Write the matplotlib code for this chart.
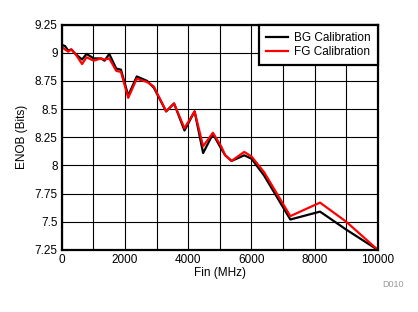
import matplotlib
matplotlib.use('Agg')
import matplotlib.pyplot as plt

plt.rcParams['font.family'] = ['Liberation Sans', 'DejaVu Sans']

# Input frequency (MHz) and ENOB for both calibration modes
fin_mhz = [0, 100, 200, 300, 430, 640, 780, 1010, 1240, 1350, 1500, 1720, 1870,
           2100, 2370, 2700, 2910, 3300, 3550, 3880, 4200, 4470, 4780, 5040,
           5170, 5370, 5770, 6000, 6400, 7230, 8170, 9000, 10000]
enob_bg = [9.07, 9.06, 9.02, 9.03, 8.99, 8.94, 8.99, 8.95, 8.95, 8.93, 8.99, 8.86,
           8.85, 8.62, 8.79, 8.75, 8.69, 8.48, 8.55, 8.31, 8.48, 8.11, 8.28, 8.15,
           8.09, 8.04, 8.09, 8.06, 7.91, 7.52, 7.59, 7.43, 7.25]
enob_fg = [9.05, 9.03, 9.01, 9.03, 8.99, 8.90, 8.96, 8.93, 8.95, 8.94, 8.95, 8.84,
           8.83, 8.60, 8.77, 8.74, 8.70, 8.48, 8.55, 8.33, 8.48, 8.17, 8.29, 8.17,
           8.09, 8.04, 8.12, 8.08, 7.94, 7.55, 7.67, 7.50, 7.25]

xticks = [0, 2000, 4000, 6000, 8000, 10000]
yticks = [7.25, 7.5, 7.75, 8, 8.25, 8.5, 8.75, 9, 9.25]
ytick_labels = ['7.25', '7.5', '7.75', '8', '8.25', '8.5', '8.75', '9', '9.25']

fig = plt.figure(figsize=(4.18, 3.12), dpi=100)
ax = fig.add_axes([0.148, 0.199, 0.756, 0.722])

ax.plot(fin_mhz, enob_bg, color='black', lw=1.6, label='BG Calibration')
ax.plot(fin_mhz, enob_fg, color='red', lw=1.6, label='FG Calibration')

ax.set_xlim(0, 10000)
ax.set_ylim(7.25, 9.25)
ax.set_xticks(xticks)
ax.set_xticks(range(0, 10001, 1000), minor=True)
ax.set_yticks(yticks)
ax.set_yticklabels(ytick_labels)
ax.grid(True, which='both', color='black', lw=0.8)
ax.tick_params(which='both', length=0, labelsize=8.5, pad=3)

for s in ax.spines.values():
    s.set_linewidth(1.6)

ax.set_xlabel('Fin (MHz)', fontsize=8.5, labelpad=1)
ax.set_ylabel('ENOB (Bits)', fontsize=8.5, labelpad=5)

leg = ax.legend(loc='upper right', fontsize=8.5, frameon=True, fancybox=False,
                borderaxespad=0, handlelength=1.9, handletextpad=0.5,
                labelspacing=0.2, borderpad=0.6)
leg.get_frame().set_edgecolor('black')
leg.get_frame().set_linewidth(1.6)
leg.get_frame().set_alpha(1)

fig.text(0.965, 0.08, 'D010', fontsize=6.5, color='#999999', ha='right')

fig.savefig('out.png', dpi=100)
